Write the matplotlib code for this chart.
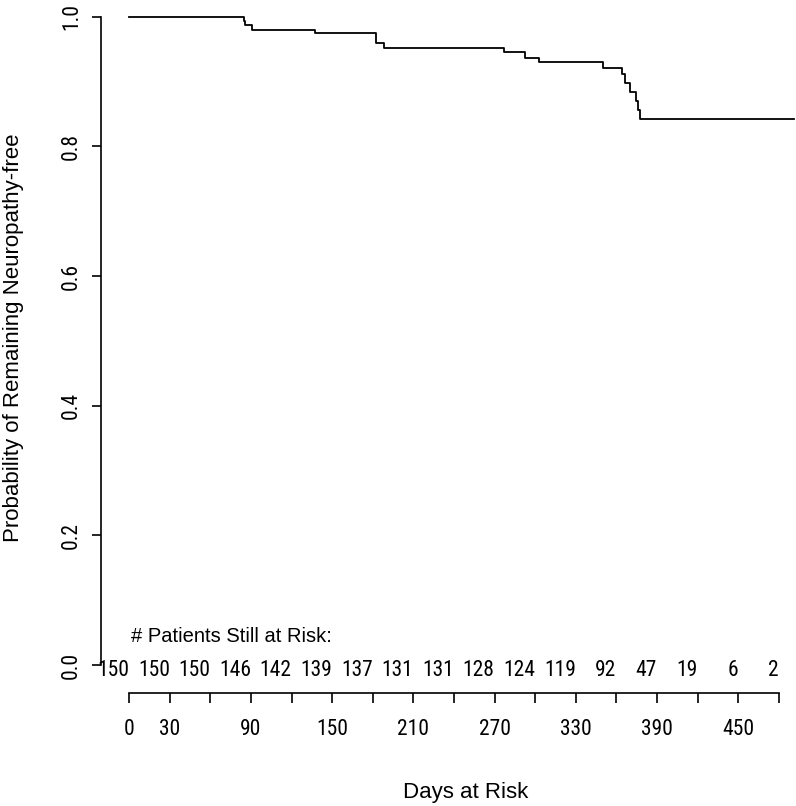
import matplotlib
matplotlib.use("Agg")
import matplotlib.pyplot as plt
import matplotlib.transforms as mtransforms

# ---- data ----
event_days = [0, 84.5, 85.5, 91, 137, 182, 188.5, 277, 292.5, 302.5, 350.5,
              364.5, 366.5, 370, 374.5, 376, 377.5]
survival = [1.0, 0.9933, 0.9867, 0.980, 0.9743, 0.959, 0.9516, 0.9455, 0.937,
            0.9296, 0.921, 0.911, 0.897, 0.884, 0.870, 0.856, 0.842]
last_day = 491

x_ticks = list(range(0, 481, 30))
x_tick_labels = ["0", "30", "", "90", "", "150", "", "210", "", "270", "",
                 "330", "", "390", "", "450", ""]
at_risk = [150, 150, 150, 146, 142, 139, 137, 131, 131, 128, 124, 119, 92,
           47, 19, 6, 2]
y_ticks = [0.0, 0.2, 0.4, 0.6, 0.8, 1.0]
y_tick_labels = ["0.0", "0.2", "0.4", "0.6", "0.8", "1.0"]

num_font = ["Liberation Sans Narrow", "DejaVu Sans Condensed",
            "Roboto Condensed", "Liberation Sans", "DejaVu Sans"]
txt_font = ["Liberation Sans", "DejaVu Sans"]

W, H = 796, 806
fig = plt.figure(figsize=(W / 100, H / 100), dpi=100)
ax = fig.add_axes([101 / W, 113 / H, (W - 101) / W, 693 / H])

xs = event_days + [last_day]
ys = survival + [survival[-1]]
ax.step(xs, ys, where="post", color="black", lw=1.3, clip_on=False)

ax.set_xlim(-20.92, 492.8)
ax.set_ylim(-0.0432, 1.0258)

for s in ("top", "right"):
    ax.spines[s].set_visible(False)
ax.spines["left"].set_bounds(0, 1)
ax.spines["bottom"].set_bounds(0, 480)
for s in ("left", "bottom"):
    ax.spines[s].set_linewidth(1.2)

ax.set_xticks(x_ticks)
ax.set_xticklabels(x_tick_labels, fontfamily=num_font, fontsize=15.5)
ax.set_yticks(y_ticks)
ax.set_yticklabels(y_tick_labels, fontfamily=num_font, fontsize=15.5,
                   rotation=90, va="center")
ax.tick_params(axis="x", length=7.2, width=1.2, pad=11.5)
ax.tick_params(axis="y", length=6.5, width=1.2, pad=7)

# at-risk numbers (right-aligned at each tick)
trans = mtransforms.blended_transform_factory(ax.transData, ax.transAxes)
y_num = (693 - 670) / 693
for xv, n in zip(x_ticks, at_risk):
    ax.text(xv, y_num, str(n), transform=trans, ha="right", va="center",
            fontfamily=num_font, fontsize=15.5)

fig.text(131 / W, 1 - 637 / H, "# Patients Still at Risk:", ha="left",
         va="center", fontfamily=txt_font, fontsize=14.5)

fig.text(466 / W, 1 - 798 / H, "Days at Risk", ha="center", va="baseline",
         fontfamily=txt_font, fontsize=16)
fig.text(14 / W, 1 - 338 / H, "Probability of Remaining Neuropathy-free",
         ha="center", va="center", rotation=90, fontfamily=txt_font,
         fontsize=16)

fig.savefig("out.png", dpi=100)
